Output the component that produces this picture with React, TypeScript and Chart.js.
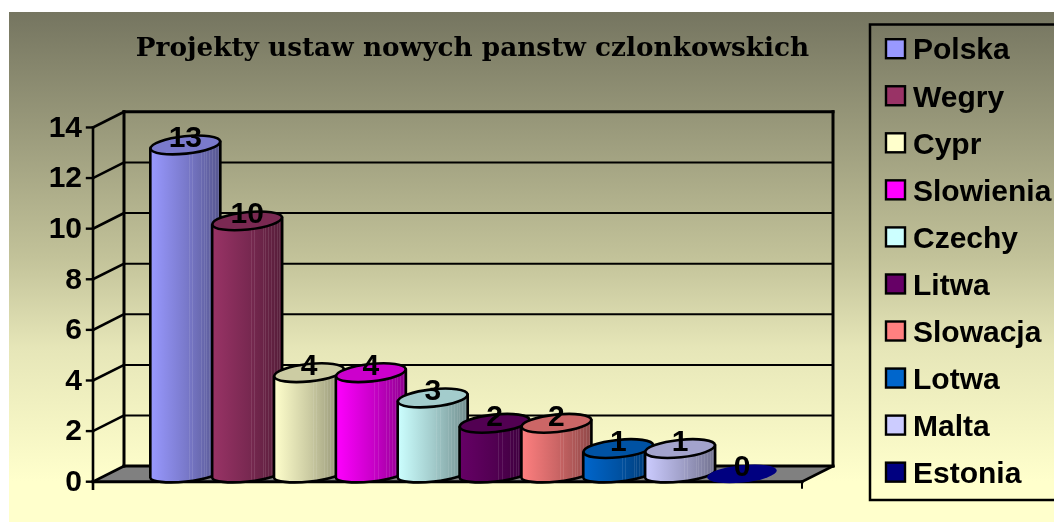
import React, { useEffect, useRef } from "react";
import { Chart, registerables, BarController, BarElement } from "chart.js";

const categories = ["Polska", "Wegry", "Cypr", "Slowienia", "Czechy", "Litwa", "Slowacja", "Lotwa", "Malta", "Estonia"];
const values = [13, 10, 4, 4, 3, 2, 2, 1, 1, 0];
const colors = ["#9999FF", "#993366", "#FFFFCC", "#FF00FF", "#CCFFFF", "#660066", "#FF8080", "#0066CC", "#CCCCFF", "#000080"];
const titleText = "Projekty ustaw nowych panstw czlonkowskich";

const DEPTH_X = 31;
const DEPTH_Y = -15.6;
const BOLD = "'Liberation Sans', Arial, sans-serif";

function shade(hex: string, f: number) {
  const n = parseInt(hex.slice(1), 16);
  const r = Math.round(((n >> 16) & 255) * f);
  const g = Math.round(((n >> 8) & 255) * f);
  const b = Math.round((n & 255) * f);
  return `rgb(${r},${g},${b})`;
}

class CylinderElement extends BarElement {
  static id = "cylinder";
  static defaults = BarElement.defaults;
  static defaultRoutes = BarElement.defaultRoutes;
  draw(ctx: CanvasRenderingContext2D) {
    const { x, y, base, width, options } = (this as any).getProps(["x", "y", "base", "width", "options"]);
    const color = options.backgroundColor as string;
    const cx = x + DEPTH_X / 2;
    const topY = y + DEPTH_Y / 2;
    const botY = base + DEPTH_Y / 2;
    const a = width / 2;
    const b = 8.7;
    const rot = (-6 * Math.PI) / 180;
    const edgeDy = 3.6;
    ctx.save();
    ctx.lineWidth = 2.6;
    ctx.strokeStyle = "#000";
    ctx.lineJoin = "round";
    if (botY - topY > 1) {
      const g = ctx.createLinearGradient(cx - a, 0, cx + a, 0);
      g.addColorStop(0, shade(color, 1));
      g.addColorStop(0.5, shade(color, 0.8));
      g.addColorStop(1, shade(color, 0.56));
      const body = new Path2D();
      body.moveTo(cx - a, topY + edgeDy);
      body.lineTo(cx - a, botY + edgeDy);
      body.ellipse(cx, botY, a + 0.2, b - 1, rot, Math.PI, 0, true);
      body.lineTo(cx + a, topY - edgeDy);
      body.closePath();
      ctx.fillStyle = g;
      ctx.fill(body);
      ctx.save();
      ctx.clip(body);
      ctx.strokeStyle = "rgba(255,255,255,0.10)";
      ctx.lineWidth = 1;
      for (const fr of [0.55, 0.6, 0.72, 0.76, 0.8, 0.84, 0.88, 0.92, 0.96]) {
        ctx.beginPath();
        ctx.moveTo(Math.round(cx - a + fr * width) + 0.5, topY);
        ctx.lineTo(Math.round(cx - a + fr * width) + 0.5, botY + 12);
        ctx.stroke();
      }
      ctx.restore();
      ctx.stroke(body);
      ctx.beginPath();
      ctx.ellipse(cx, topY, a, b, rot, 0, Math.PI * 2);
      ctx.fillStyle = shade(color, 0.8);
      ctx.fill();
      ctx.stroke();
    } else {
      ctx.beginPath();
      ctx.ellipse(cx, topY, a, b, rot, 0, Math.PI * 2);
      ctx.fillStyle = color;
      ctx.fill();
    }
    ctx.restore();
  }
}

class CylinderController extends BarController {
  static id = "cylinder";
  static defaults = { ...BarController.defaults, dataElementType: "cylinder" };
}

Chart.register(...registerables, CylinderElement, CylinderController);

const scenePlugin = {
  id: "scene",
  afterLayout(chart: any) {
    chart.titleBlock.left = 86;
    chart.titleBlock.right = 859;
  },
  beforeDraw(chart: any) {
    const ctx: CanvasRenderingContext2D = chart.ctx;
    const g = ctx.createLinearGradient(0, 12, 0, 522);
    g.addColorStop(0, "#757560");
    g.addColorStop(0.48, "#C2C299");
    g.addColorStop(0.66, "#E6E6B8");
    g.addColorStop(0.92, "#FFFFCC");
    g.addColorStop(1, "#FFFFCC");
    ctx.save();
    ctx.fillStyle = g;
    ctx.fillRect(9, 12, 1045, 510);
    ctx.restore();
  },
  beforeDatasetsDraw(chart: any) {
    const ctx: CanvasRenderingContext2D = chart.ctx;
    const { left, right } = chart.chartArea;
    const sy = chart.scales.y;
    const y0 = sy.getPixelForValue(0);
    const yMax = sy.getPixelForValue(sy.max);
    const line = (x1: number, y1: number, x2: number, y2: number, w: number) => {
      ctx.lineWidth = w;
      ctx.beginPath();
      ctx.moveTo(x1, y1);
      ctx.lineTo(x2, y2);
      ctx.stroke();
    };
    ctx.save();
    ctx.strokeStyle = "#000";
    ctx.lineCap = "square";
    ctx.fillStyle = "#808080";
    ctx.beginPath();
    ctx.moveTo(left, y0);
    ctx.lineTo(left + DEPTH_X, y0 + DEPTH_Y);
    ctx.lineTo(right + DEPTH_X, y0 + DEPTH_Y);
    ctx.lineTo(right, y0);
    ctx.closePath();
    ctx.fill();
    for (const t of sy.ticks) {
      const py = sy.getPixelForValue(t.value);
      const isEdge = t.value === 0 || t.value === sy.max;
      line(left + DEPTH_X, py + DEPTH_Y, right + DEPTH_X, py + DEPTH_Y, isEdge ? 3 : 2);
      line(left, py, left + DEPTH_X, py + DEPTH_Y, 2.6);
      line(left - 6, py, left, py, 2.4);
    }
    line(left + DEPTH_X, yMax + DEPTH_Y, left + DEPTH_X, y0 + DEPTH_Y, 3);
    line(right + DEPTH_X, yMax + DEPTH_Y, right + DEPTH_X, y0 + DEPTH_Y, 3);
    line(left, yMax, left, y0 + 7, 2.6);
    line(left, y0, right, y0, 3);
    line(right, y0, right + DEPTH_X, y0 + DEPTH_Y, 2.6);
    line(right, y0, right, y0 + 6, 2);
    ctx.restore();
  },
  afterDatasetsDraw(chart: any) {
    const ctx: CanvasRenderingContext2D = chart.ctx;
    const meta = chart.getDatasetMeta(0);
    ctx.save();
    ctx.fillStyle = "#000";
    ctx.font = `bold 30px ${BOLD}`;
    ctx.textAlign = "center";
    ctx.textBaseline = "middle";
    meta.data.forEach((el: any, i: number) => {
      ctx.fillText(String(values[i]), el.x + DEPTH_X / 2, el.y + DEPTH_Y / 2 - 6);
    });
    // legend
    ctx.strokeStyle = "#000";
    ctx.lineWidth = 2.5;
    ctx.strokeRect(870, 24.5, 200, 475.5);
    ctx.textAlign = "left";
    categories.forEach((c, i) => {
      const cy = 48.7 + i * 47.05;
      ctx.fillStyle = colors[i];
      ctx.fillRect(886, cy - 9.5, 19, 19);
      ctx.lineWidth = 2.4;
      ctx.strokeRect(886, cy - 9.5, 19, 19);
      ctx.fillStyle = "#000";
      ctx.fillText(c, 913, cy + 2.5);
    });
    ctx.restore();
  },
};

export default function App() {
  const ref = useRef<HTMLCanvasElement>(null);
  useEffect(() => {
    const chart = new Chart(ref.current as HTMLCanvasElement, {
      type: "cylinder" as any,
      data: {
        datasets: [
          {
            label: "Projekty ustaw",
            data: values.map((v, i) => ({ x: i, y: v })),
            backgroundColor: colors,
            barThickness: 70,
            clip: false as any,
          },
        ],
      },
      options: {
        responsive: false,
        animation: false,
        events: [],
        layout: { padding: { top: 0, bottom: 40.3, left: 0, right: 252 } },
        scales: {
          x: { type: "linear", display: false, offset: false, min: -1.242, max: 10.221 },
          y: {
            min: 0,
            max: 14,
            grid: { display: false },
            border: { display: false },
            ticks: {
              stepSize: 2,
              padding: 3,
              labelOffset: 1,
              color: "#000",
              font: { family: BOLD, size: 30, weight: "bold" },
            },
            afterFit(scale: any) {
              scale.width = 93;
            },
          },
        },
        plugins: {
          legend: { display: false },
          tooltip: { enabled: false },
          title: {
            display: true,
            text: titleText,
            color: "#000",
            font: { family: "'DejaVu Serif', serif", size: 26.3, weight: "bold", lineHeight: 1.2 },
            padding: { top: 33.7, bottom: 62.2 },
            fullSize: false,
          },
        },
      } as any,
      plugins: [scenePlugin],
    });
    return () => chart.destroy();
  }, []);
  return (
    <div style={{ position: "absolute", left: 0, top: 0, width: 1054, height: 522, overflow: "hidden" }}>
      <canvas ref={ref} width={1054} height={522} style={{ display: "block" }} />
    </div>
  );
}
